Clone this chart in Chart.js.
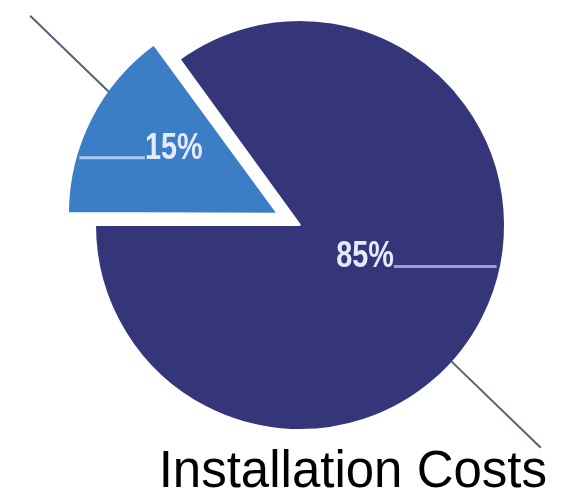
<!DOCTYPE html>
<html>
<head>
<meta charset="utf-8">
<script src="https://cdn.jsdelivr.net/npm/chart.js@4.4.1/dist/chart.umd.min.js"></script>
<style>
  html, body { margin: 0; padding: 0; background: #fff; }
  #wrap { width: 565px; height: 495px; }
</style>
</head>
<body>
<div id="wrap"><canvas id="pie"></canvas></div>
<script>
// ---------- Data ----------
const categories = ['Installation Costs', 'Other'];
const shares = [15, 85];            // percent
const sliceColors = ['#3b7ec6', '#35367a'];
const sliceOffsets = [100, 0];      // first slice pulled out
const titleText = 'Installation Costs';

// labels + leader lines drawn on top of the arcs
const pieLabels = {
    id: 'pieLabels',
    afterDatasetsDraw(chart, args, opts) {
        const ctx = chart.ctx;
        const meta = chart.getDatasetMeta(0);
        meta.data.forEach((arc, i) => {
            const p = arc.getProps(['x', 'y', 'startAngle', 'endAngle', 'outerRadius', 'circumference'], true);
            const mid = (p.startAngle + p.endAngle) / 2;
            // same shift the arc element applies for its offset
            const off = (arc.options.offset || 0) / 4;
            const fix = 1 - Math.sin(Math.min(Math.PI, p.circumference || 0));
            const shift = off * (1 + fix);
            const cx = p.x + Math.cos(mid) * shift;
            const cy = p.y + Math.sin(mid) * shift;
            const r = p.outerRadius;

            const cfg = opts.slices[i];
            const a = mid + cfg.labelTurn * Math.PI / 180;
            const lx = cx + Math.cos(a) * r * cfg.labelRatio;
            const ly = cy + Math.sin(a) * r * cfg.labelRatio;
            const text = shares[i] + '%';

            ctx.save();
            ctx.font = opts.font;
            const sx = opts.squeeze;
            const w = ctx.measureText(text).width * sx;
            const base = ly + 12;

            // underline running to the slice edge
            const dy = base - cy;
            const edge = Math.sqrt(Math.max(r * r - dy * dy, 0));
            ctx.strokeStyle = cfg.lineColor;
            ctx.lineWidth = 3;
            ctx.beginPath();
            if (cfg.lineSide < 0) {
                ctx.moveTo(lx - w / 2, base - 1);
                ctx.lineTo(cx - edge + 4, base - 1);
            } else {
                ctx.moveTo(lx + w / 2, base - 1);
                ctx.lineTo(cx + edge - 4, base - 1);
            }
            ctx.stroke();

            // condensed label text
            ctx.save();
            ctx.translate(lx, base);
            ctx.scale(sx, 1);
            ctx.textAlign = 'center';
            ctx.textBaseline = 'alphabetic';
            ctx.fillStyle = opts.color;
            ctx.fillText(text, 0, 0);
            ctx.restore();

            // grey leader line outside the pie
            const la = cfg.leaderAngle * Math.PI / 180;
            const ld = cfg.leaderDir * Math.PI / 180;
            const px = cx + Math.cos(la) * (r - 2);
            const py = cy + Math.sin(la) * (r - 2);
            ctx.strokeStyle = '#5a6072';
            ctx.lineWidth = 2;
            ctx.beginPath();
            ctx.moveTo(px, py);
            ctx.lineTo(px + Math.cos(ld) * cfg.leaderLength, py + Math.sin(ld) * cfg.leaderLength);
            ctx.stroke();
            ctx.restore();
        });
    }
};

new Chart(document.getElementById('pie'), {
    type: 'pie',
    data: {
        labels: categories,
        datasets: [{
            data: shares,
            backgroundColor: sliceColors,
            borderColor: '#ffffff',
            borderWidth: 2,
            offset: sliceOffsets,
            radius: 205,
        }],
    },
    options: {
        responsive: true,
        maintainAspectRatio: false,
        animation: false,
        events: [],
        rotation: 270,
        layout: { padding: { left: 53, right: 18, top: 0, bottom: 0 } },
        plugins: {
            legend: { display: false },
            tooltip: { enabled: false },
            title: {
                display: true,
                text: titleText,
                position: 'bottom',
                align: 'end',
                color: '#000000',
                padding: { top: 0, bottom: 0 },
                font: { family: '"Liberation Sans", Arial, sans-serif', size: 51, weight: 'normal', lineHeight: 0.88 },
            },
            pieLabels: {
                font: 'bold 36px "Liberation Sans", Arial, sans-serif',
                squeeze: 0.8,
                color: '#e6eaff',
                slices: [
                    { labelTurn: 6, labelRatio: 0.58, lineSide: -1, lineColor: '#b4c8f0', leaderAngle: 216, leaderDir: 224, leaderLength: 110 },
                    { labelTurn: -2, labelRatio: 0.35, lineSide: 1, lineColor: '#9c9ce0', leaderAngle: 42, leaderDir: 44, leaderLength: 125 },
                ],
            },
        },
    },
    plugins: [pieLabels],
});
</script>
</body>
</html>
